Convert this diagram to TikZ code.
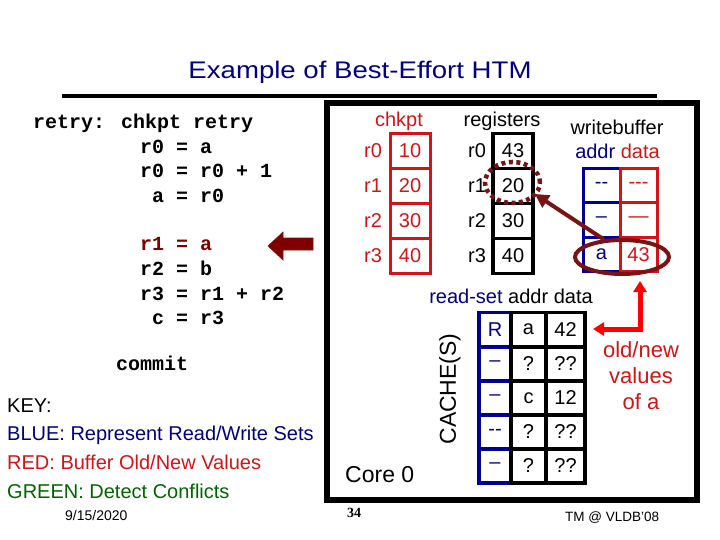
\documentclass[tikz,border=0pt]{standalone}
\usepackage{fontspec}
\usepackage{graphicx}
\setmainfont{Liberation Sans}
\newfontfamily\codefont{Liberation Mono}
\newfontfamily\pagenofont{Liberation Serif}
\usetikzlibrary{arrows.meta,shapes.geometric}
\definecolor{navyblue}{RGB}{0,0,128}
\definecolor{cacheblue}{RGB}{0,0,150}
\definecolor{slidered}{RGB}{210,20,20}
\definecolor{maroon}{RGB}{128,0,0}
\definecolor{ringred}{RGB}{120,20,20}
\definecolor{keygreen}{RGB}{0,100,0}
\newcommand\fsz[1]{\fontsize{#1}{#1}\selectfont}

\begin{document}
\begin{tikzpicture}[x=1pt, y=-1pt, inner sep=0pt,
  lbl/.style={font=\fsz{20}},
  codeline/.style={anchor=base west, font=\codefont\bfseries\fsz{20}},
  keyline/.style={anchor=base west, font=\fsz{20}},
  ckcell/.style={draw=slidered, line width=3pt, minimum width=40pt, minimum height=35pt, text=slidered, font=\fsz{20}},
  regcell/.style={draw, line width=3.5pt, minimum width=40pt, minimum height=35pt, font=\fsz{20}},
  addrcell/.style={draw=cacheblue, line width=3pt, minimum width=37pt, minimum height=34.5pt, text=navyblue, font=\fsz{20}},
  datacell/.style={draw=slidered, line width=3pt, minimum width=37pt, minimum height=34.5pt, text=slidered, font=\fsz{20}},
  rscell/.style={draw=cacheblue, line width=3.5pt, minimum width=32pt, minimum height=34pt, text=navyblue, font=\fsz{20}},
  cachecell/.style={draw, line width=3.5pt, minimum width=#1, minimum height=34pt, font=\fsz{20}}]
  \useasboundingbox (0,0) rectangle (720,540);
  % title
  \node[anchor=base, text=navyblue, font=\fsz{24}] (title) at (360,79) {\scalebox{1.15}[1]{Example of Best-Effort HTM}};
  \draw[line width=4pt] (62,96) -- (657,96);
  % code
  \node[codeline] (c0) at (33,129) {retry: chkpt retry};
  \node[codeline] (c1) at (140,153.5) {r0 = a};
  \node[codeline] (c2) at (140,178) {r0 = r0 + 1};
  \node[codeline] (c3) at (152,202.5) {a = r0};
  \node[codeline, text=maroon] (c4) at (140,251) {r1 = a};
  \node[codeline] (c5) at (140,275.5) {r2 = b};
  \node[codeline] (c6) at (140,300) {r3 = r1 + r2};
  \node[codeline] (c7) at (152,324.5) {c = r3};
  \node[codeline] (commit) at (116,370) {commit};
  \fill[maroon, draw=ringred, line width=0.6pt] (313,238) -- (283,238) -- (283,232) -- (268,246) -- (283,260) -- (283,250) -- (313,250) -- cycle;
  % key
  \node[keyline] (key) at (7,412) {KEY:};
  \node[keyline, text=navyblue] (keyblue) at (7,440) {BLUE: Represent Read/Write Sets};
  \node[keyline, text=slidered] (keyred) at (7,469) {RED: Buffer Old/New Values};
  \node[keyline, text=keygreen] (keygreen) at (7,498) {GREEN: Detect Conflicts};
  \node[anchor=base west, font=\fsz{14}] (date) at (65,520) {9/15/2020};
  % core 0
  \draw[line width=6pt] (327,103.5) rectangle (697,500);
  \node[anchor=base, lbl, text=slidered] (ckhead) at (399,127) {chkpt};
  \node[anchor=base, lbl] (reghead) at (502,127) {registers};
  \node[lbl, text=slidered] (ckl0) at (373,151) {r0};
  \node[lbl, text=slidered] (ckl1) at (373,186) {r1};
  \node[lbl, text=slidered] (ckl2) at (373,221) {r2};
  \node[lbl, text=slidered] (ckl3) at (373,256) {r3};
  \node[ckcell] (ck0) at (410,151) {10};
  \node[ckcell] (ck1) at (410,186) {20};
  \node[ckcell] (ck2) at (410,221) {30};
  \node[ckcell] (ck3) at (410,256) {40};
  \node[lbl] (regl0) at (477,151) {r0};
  \node[lbl] (regl1) at (477,186) {r1};
  \node[lbl] (regl2) at (477,221) {r2};
  \node[lbl] (regl3) at (477,256) {r3};
  \node[regcell] (reg0) at (513,151) {43};
  \node[regcell] (reg1) at (513,186) {20};
  \node[regcell] (reg2) at (513,221) {30};
  \node[regcell] (reg3) at (513,256) {40};
  % writebuffer
  \node[anchor=base, lbl] (wbhead) at (617,135) {writebuffer};
  \node[anchor=base, lbl] (wbcols) at (617.5,159) {\textcolor{navyblue}{addr} \textcolor{slidered}{data}};
  \node[addrcell] (wba0) at (601.5,185.5) {-{}-};
  \node[datacell] (wbd0) at (638.5,185.5) {-{}-{}-};
  \node[addrcell] (wba1) at (601.5,220) {--};
  \node[datacell] (wbd1) at (638.5,220) {---};
  \node[addrcell] (wba2) at (601.5,254.5) {a};
  \node[datacell] (wbd2) at (638.5,254.5) {43};
  \node[draw=ringred, line width=4.5pt, dash pattern=on 4pt off 3.5pt, ellipse, minimum width=55pt, minimum height=41pt] (r1ring) at (512.5,182.5) {};
  \node[draw=ringred, line width=4pt, ellipse, minimum width=94pt, minimum height=34pt] (wbhit) at (622,257) {};
  \draw[ringred, line width=4pt, -{Triangle[length=14pt, width=14pt]}] (wbhit.136) -- (reg1.-20);
  % read-set / cache
  \node[anchor=base, lbl] (rshead) at (511,303) {\textcolor{navyblue}{read-set} addr data};
  \node[font=\fsz{23}, rotate=90] (cachelbl) at (450,389) {CACHE(S)};
  \node[rscell] (rs0) at (495,329.5) {R};
  \node[rscell] (rs1) at (495,364) {--};
  \node[rscell] (rs2) at (495,398) {--};
  \node[rscell] (rs3) at (495,432) {-{}-};
  \node[rscell] (rs4) at (495,466) {--};
  \node[cachecell=35pt] (ca0) at (528.5,329.5) {a};
  \node[cachecell=35pt] (ca1) at (528.5,364) {?};
  \node[cachecell=35pt] (ca2) at (528.5,398) {c};
  \node[cachecell=35pt] (ca3) at (528.5,432) {?};
  \node[cachecell=35pt] (ca4) at (528.5,466) {?};
  \node[cachecell=39pt] (cd0) at (565.5,329.5) {42};
  \node[cachecell=39pt] (cd1) at (565.5,364) {??};
  \node[cachecell=39pt] (cd2) at (565.5,398) {12};
  \node[cachecell=39pt] (cd3) at (565.5,432) {??};
  \node[cachecell=39pt] (cd4) at (565.5,466) {??};
  \coordinate (valup) at (640,281);
  \coordinate (valleft) at (593,329);
  \draw[red, line width=5pt, {Triangle[length=11pt, width=13pt]}-{Triangle[length=11pt, width=13pt]}] (valup) |- (valleft);
  \node[align=center, text=slidered, font=\fontsize{22}{26}\selectfont] (oldnew) at (641,376) {old/new\\values\\of a};
  \node[anchor=base west, font=\fsz{23}] (core) at (345,482) {Core 0};
  % footer
  \node[anchor=base, font=\pagenofont\bfseries\fsz{14}] (pageno) at (354,517) {34};
  \node[anchor=base west, font=\fsz{13.5}] (venue) at (565,521) {TM @ VLDB'08};
\end{tikzpicture}
\end{document}
